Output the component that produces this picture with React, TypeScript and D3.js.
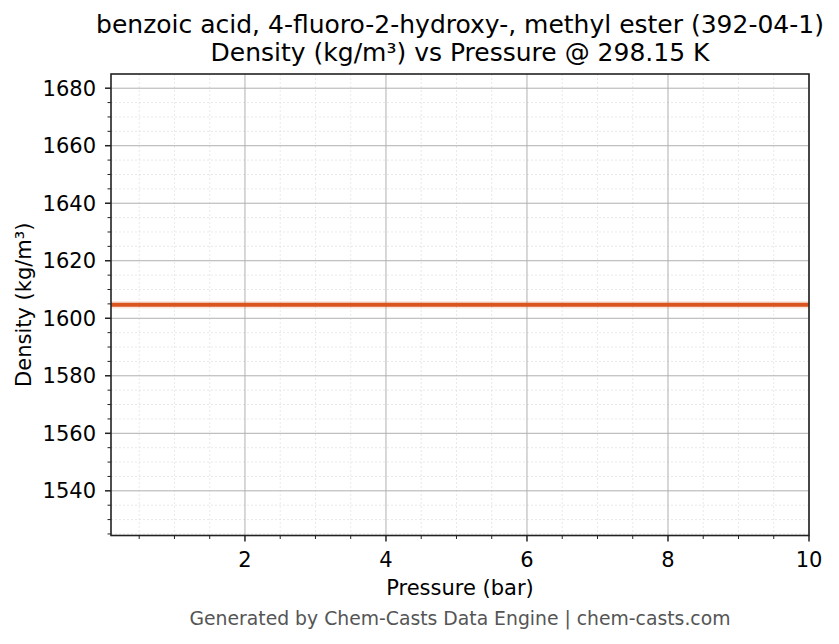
import React from "react";
import * as d3 from "d3";

const pressures = [0.1, 1, 2, 3, 4, 5, 6, 7, 8, 9, 10];
const densities = [1604.7, 1604.7, 1604.7, 1604.7, 1604.7, 1604.7, 1604.7, 1604.7, 1604.7, 1604.7, 1604.7];
const xTicks = [2, 4, 6, 8, 10];
const yTicks = [1540, 1560, 1580, 1600, 1620, 1640, 1660, 1680];
const titleLines = [
  "benzoic acid, 4-fluoro-2-hydroxy-, methyl ester (392-04-1)",
  "Density (kg/m³) vs Pressure @ 298.15 K",
];
const xLabel = "Pressure (bar)";
const yLabel = "Density (kg/m³)";
const footer = "Generated by Chem-Casts Data Engine | chem-casts.com";

const W = 839;
const H = 644;
const M = { left: 111, right: 809, top: 74, bottom: 535.5 };
const FONT = "'DejaVu Sans', sans-serif";

export default function App() {
  const x = d3.scaleLinear().domain([0.1, 10]).range([M.left, M.right]);
  const yMid = 1604.7;
  const y = d3.scaleLinear().domain([yMid * 0.95, yMid * 1.05]).range([M.bottom, M.top]);

  const xMinor = d3.range(0.5, 10.01, 0.5).filter((v) => !xTicks.includes(v));
  const yMinor = d3.range(1525, 1685, 5).filter((v) => v % 20 !== 0);

  const line = d3
    .line<number>()
    .x((_, i) => x(pressures[i]))
    .y((d) => y(d));
  const path = line(densities) || "";

  return (
    <svg
      width={W}
      height={H}
      style={{ position: "absolute", left: 0, top: 0, background: "#fff" }}
      fontFamily={FONT}
    >
      <rect x={0} y={0} width={W} height={H} fill="#fff" />
      {xMinor.map((v) => (
        <line key={"xm" + v} x1={x(v)} x2={x(v)} y1={M.top} y2={M.bottom} stroke="#e0e0e0" strokeWidth={0.7} strokeDasharray="2,2" />
      ))}
      {yMinor.map((v) => (
        <line key={"ym" + v} x1={M.left} x2={M.right} y1={y(v)} y2={y(v)} stroke="#e0e0e0" strokeWidth={0.7} strokeDasharray="2,2" />
      ))}
      {xTicks.map((v) => (
        <line key={"xg" + v} x1={x(v)} x2={x(v)} y1={M.top} y2={M.bottom} stroke="#b0b0b0" strokeWidth={1} />
      ))}
      {yTicks.map((v) => (
        <line key={"yg" + v} x1={M.left} x2={M.right} y1={y(v)} y2={y(v)} stroke="#b0b0b0" strokeWidth={1} />
      ))}
      <path d={path} fill="none" stroke="#d9541e" strokeOpacity={0.15} strokeWidth={7.5} />
      <path d={path} fill="none" stroke="#d9541e" strokeWidth={4} />
      <rect x={M.left} y={M.top} width={M.right - M.left} height={M.bottom - M.top} fill="none" stroke="#222" strokeWidth={1.6} />
      {xTicks.map((v) => (
        <g key={"xt" + v}>
          <line x1={x(v)} x2={x(v)} y1={M.bottom} y2={M.bottom + 6} stroke="#222" strokeWidth={1.5} />
          <text x={x(v)} y={567} textAnchor="middle" fontSize={21} fill="#000">{v}</text>
        </g>
      ))}
      {xMinor.map((v) => (
        <line key={"xmt" + v} x1={x(v)} x2={x(v)} y1={M.bottom} y2={M.bottom + 3.5} stroke="#222" strokeWidth={1} />
      ))}
      {yTicks.map((v) => (
        <g key={"yt" + v}>
          <line x1={M.left - 6} x2={M.left} y1={y(v)} y2={y(v)} stroke="#222" strokeWidth={1.5} />
          <text x={96} y={y(v)} dy="0.36em" textAnchor="end" fontSize={21} fill="#000">{v}</text>
        </g>
      ))}
      {yMinor.map((v) => (
        <line key={"ymt" + v} x1={M.left - 3.5} x2={M.left} y1={y(v)} y2={y(v)} stroke="#222" strokeWidth={1} />
      ))}
      <text x={(M.left + M.right) / 2} y={595} textAnchor="middle" fontSize={21} fill="#000">{xLabel}</text>
      <text transform={`translate(31,${(M.top + M.bottom) / 2}) rotate(-90)`} textAnchor="middle" fontSize={21} fill="#000">{yLabel}</text>
      {titleLines.map((t, i) => (
        <text key={t} x={(M.left + M.right) / 2} y={33 + i * 28} textAnchor="middle" fontSize={25} fill="#000">{t}</text>
      ))}
      <text x={(M.left + M.right) / 2} y={625} textAnchor="middle" fontSize={18.8} fill="#555">{footer}</text>
    </svg>
  );
}
